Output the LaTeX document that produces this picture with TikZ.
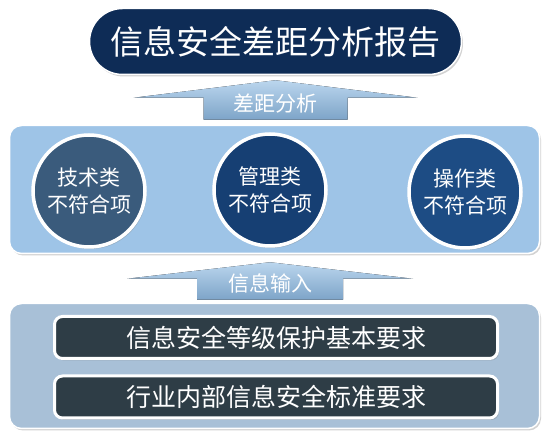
\documentclass[tikz,border=0pt]{standalone}
\usepackage{fontspec}
\setmainfont{Noto Sans CJK SC}
\usepackage{xcolor}
\usetikzlibrary{positioning,calc,shadows}

\definecolor{navy}{HTML}{0E2C56}
\definecolor{panelblue}{HTML}{9EC4E7}
\definecolor{inputgray}{HTML}{A8C0D7}
\definecolor{techcol}{HTML}{3A5B7C}
\definecolor{mgmtcol}{HTML}{163F73}
\definecolor{opercol}{HTML}{1D4C84}
\definecolor{barcol}{HTML}{2E3D46}
\definecolor{flowtop}{HTML}{BBD6EE}
\definecolor{flowbot}{HTML}{7DA4C8}

\begin{document}
\begin{tikzpicture}[x=1pt,y=-1pt,
		softshadow/.style={drop shadow={opacity=0.35,shadow xshift=1.5pt,shadow yshift=-2pt}},
		title/.style={draw=white,line width=1.5pt,fill=navy,rounded corners=33pt,minimum width=372pt,minimum height=66pt,text=white,font=\fontsize{33}{33}\selectfont,softshadow},
		panel/.style={draw=white,line width=1.5pt,rounded corners=12pt,minimum width=530pt,softshadow},
		item/.style={circle,draw=white,line width=3.5pt,minimum size=112pt,text=white,align=center,font=\fontsize{21}{27}\selectfont,softshadow},
		bar/.style={draw=white,line width=3pt,rounded corners=8pt,fill=barcol,minimum width=443pt,minimum height=42pt,text=white,font=\fontsize{25}{25}\selectfont,softshadow},
		flow/.style={top color=flowtop,bottom color=flowbot},
		flowlabel/.style={text=white,font=\fontsize{21}{21}\selectfont}
		]
		\fill[white] (0,0) rectangle (552,443);
		\useasboundingbox (0,0) rectangle (552,443);
		
		\node[title] (report) at (275.5,41.5) {信息安全差距分析报告};
		\node[panel,fill=panelblue,minimum height=128pt] (gaps) at (274.5,189.5) {};
		\node[panel,fill=inputgray,minimum height=125pt] (inputs) at (274.5,366) {};
		
		\node[item,fill=mgmtcol] (mgmt) at (270,190) {管理类\\不符合项};
		\node[item,fill=techcol] (tech) at (89,191) {技术类\\不符合项};
		\node[item,fill=opercol] (oper) at (465,192) {操作类\\不符合项};
		
		\node[bar] (grade) at (276,337.5) {信息安全等级保护基本要求};
		\node[bar,below=14.5pt of grade] (trade) {行业内部信息安全标准要求};
		
		% arrows between the layers
		\coordinate (upBase) at (report |- gaps.north);
		\coordinate (inBase) at (mgmt |- inputs.north);
		\fill[flow] ($(upBase)+(-72,-5)$) -- ++(0,-22) -- ++(-70,0) -- ($(report.south)+(0,5)$)
			-- ($(upBase)+(142,-27)$) -- ++(-70,0) -- ++(0,22) -- cycle;
		\fill[flow] ($(inBase)+(-73,-3)$) -- ++(0,-21) -- ++(-70,0) -- ($(mgmt |- gaps.south)+(0,8)$)
			-- ($(inBase)+(143,-24)$) -- ++(-70,0) -- ++(0,21) -- cycle;
		\node[flowlabel] (gapLbl) at ($(upBase)+(0,-21)$) {差距分析};
		\node[flowlabel] (inLbl) at ($(inBase)+(0,-19)$) {信息输入};
	\end{tikzpicture}
\end{document}
